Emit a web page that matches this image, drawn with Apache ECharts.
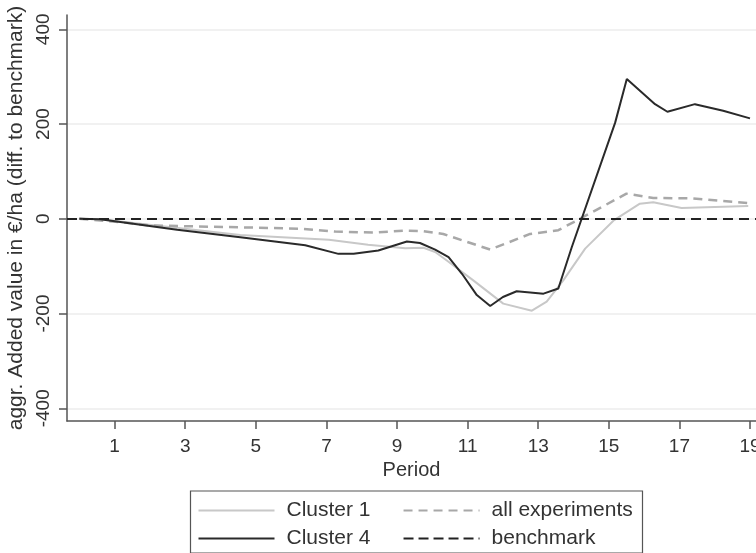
<!DOCTYPE html>
<html>
<head>
<meta charset="utf-8">
<script src="https://cdn.jsdelivr.net/npm/echarts@6/dist/echarts.min.js"></script>
<style>
html,body{margin:0;padding:0;background:#fff;}
#chart{width:756px;height:553px;}
</style>
</head>
<body>
<div id="chart"></div>
<script>
// ---- data ----
var cluster1Periods = [0, 0.59, 4.56, 7.07, 8.18, 9.23, 9.75, 10.08, 10.41, 11.16, 12.01, 12.82, 13.24, 13.71, 14.33, 15.13, 15.88, 16.26, 17.06, 18.95];
var cluster1Values  = [0, -1, -34, -44, -55, -62, -61, -70, -88, -130, -179, -194, -175, -130, -63, -4, 32, 35, 23, 27];

var cluster4Periods = [0, 0.59, 2.77, 4.56, 6.40, 7.34, 7.77, 8.47, 9.28, 9.65, 10.08, 10.46, 10.84, 11.26, 11.64, 12.00, 12.39, 13.15, 13.57, 13.95, 15.18, 15.51, 16.31, 16.66, 17.44, 18.24, 19.0];
var cluster4Values  = [0, -1, -23, -39, -56, -74, -74, -67, -48, -51, -65, -81, -116, -161, -184, -165, -153, -158, -147, -60, 203, 295, 242, 226, 242, 228, 212];

var allExpPeriods = [0, 1.16, 2.01, 4.56, 6.30, 7.25, 8.38, 9.23, 9.75, 10.31, 11.64, 12.77, 13.57, 14.18, 15.50, 16.26, 17.39, 18.95];
var allExpValues  = [0, -7, -14, -18, -21, -27, -29, -25, -26, -32, -65, -32, -24, 0, 53, 44, 43, 33];

var benchmarkValue = 0;

var xTickLabels = [1, 3, 5, 7, 9, 11, 13, 15, 17, 19];
var yTickLabels = [-400, -200, 0, 200, 400];

function pairs(xs, ys) { return xs.map(function (x, i) { return [x, ys[i]]; }); }

var FONT = '"Liberation Sans", Arial, sans-serif';
var X_MIN = -0.35, X_MAX = 19.17;

var legendCommon = {
  left: 192.5, itemWidth: 76, itemHeight: 20, itemGap: 32,
  itemStyle: {opacity: 0},
  textStyle: {fontSize: 21, color: '#333', fontFamily: FONT, padding: [0, 0, 0, 7]},
  selectedMode: false
};

var chart = echarts.init(document.getElementById('chart'), null, {renderer: 'canvas'});
chart.setOption({
  animation: false,
  backgroundColor: '#ffffff',
  textStyle: {fontFamily: FONT},
  grid: [
    {left: 67, right: 0, top: 15, bottom: 132, containLabel: false, outerBoundsMode: 'none'},
    {left: 67, right: 0, top: 29.3, bottom: 144.7, containLabel: false, outerBoundsMode: 'none'}
  ],
  xAxis: [
    {
      type: 'value', gridIndex: 0, min: X_MIN, max: X_MAX,
      axisLine: {show: true, onZero: false, lineStyle: {color: '#555', width: 1.5}},
      axisTick: {show: true, length: 8, lineStyle: {color: '#555', width: 1.5}, customValues: xTickLabels},
      axisLabel: {show: true, customValues: xTickLabels, margin: 16, fontSize: 19, color: '#333', fontFamily: FONT, alignMaxLabel: 'center', alignMinLabel: 'center'},
      splitLine: {show: false},
      name: 'Period', nameLocation: 'middle', nameGap: 36,
      nameTextStyle: {fontSize: 20, color: '#333', fontFamily: FONT}
    },
    {
      type: 'value', gridIndex: 1, min: X_MIN, max: X_MAX, show: false
    }
  ],
  yAxis: [
    {
      type: 'value', gridIndex: 0, min: -426, max: 428,
      axisLine: {show: true, onZero: false, lineStyle: {color: '#555', width: 1.5}},
      axisTick: {show: false}, axisLabel: {show: false}, splitLine: {show: false},
      name: 'aggr. Added value in €/ha (diff. to benchmark)', nameLocation: 'middle', nameGap: 40,
      nameTextStyle: {fontSize: 21, color: '#333', fontFamily: FONT}
    },
    {
      type: 'value', gridIndex: 1, min: -400, max: 400, interval: 200,
      axisLine: {show: false, onZero: false},
      axisTick: {show: true, length: 8, lineStyle: {color: '#555', width: 1.5}},
      axisLabel: {show: true, rotate: 90, margin: 14, fontSize: 19, color: '#333', fontFamily: FONT},
      splitLine: {show: true, lineStyle: {color: '#ececec', width: 1.5}}
    }
  ],
  legend: [
    Object.assign({data: ['Cluster 1', 'all experiments'], top: 495}, legendCommon),
    Object.assign({data: ['Cluster 4', 'benchmark'], top: 523}, legendCommon)
  ],
  graphic: [
    {type: 'rect', left: 188, top: 488.5, shape: {width: 452, height: 62}, style: {fill: 'none', stroke: '#555', lineWidth: 1.2}, silent: true}
  ],
  series: [
    {
      name: 'Cluster 1', type: 'line', xAxisIndex: 1, yAxisIndex: 1, showSymbol: false, symbol: 'none',
      data: pairs(cluster1Periods, cluster1Values),
      lineStyle: {color: '#c8c8c8', width: 2}, itemStyle: {color: '#c8c8c8'}, z: 2
    },
    {
      name: 'all experiments', type: 'line', xAxisIndex: 1, yAxisIndex: 1, showSymbol: false, symbol: 'none',
      data: pairs(allExpPeriods, allExpValues),
      lineStyle: {color: '#a8a8a8', width: 2.5, type: [9, 6]}, itemStyle: {color: '#a8a8a8'}, z: 3
    },
    {
      name: 'Cluster 4', type: 'line', xAxisIndex: 1, yAxisIndex: 1, showSymbol: false, symbol: 'none',
      data: pairs(cluster4Periods, cluster4Values),
      lineStyle: {color: '#2a2a2a', width: 2}, itemStyle: {color: '#2a2a2a'}, z: 4
    },
    {
      name: 'benchmark', type: 'line', xAxisIndex: 1, yAxisIndex: 1, showSymbol: false, symbol: 'none',
      data: [],
      lineStyle: {color: '#222', width: 2, type: [10, 5]}, itemStyle: {color: '#222'}, z: 5,
      markLine: {
        silent: true, symbol: 'none', label: {show: false},
        lineStyle: {color: '#222', width: 2, type: [10, 6]},
        data: [{yAxis: benchmarkValue}]
      }
    }
  ]
});
</script>
</body>
</html>
